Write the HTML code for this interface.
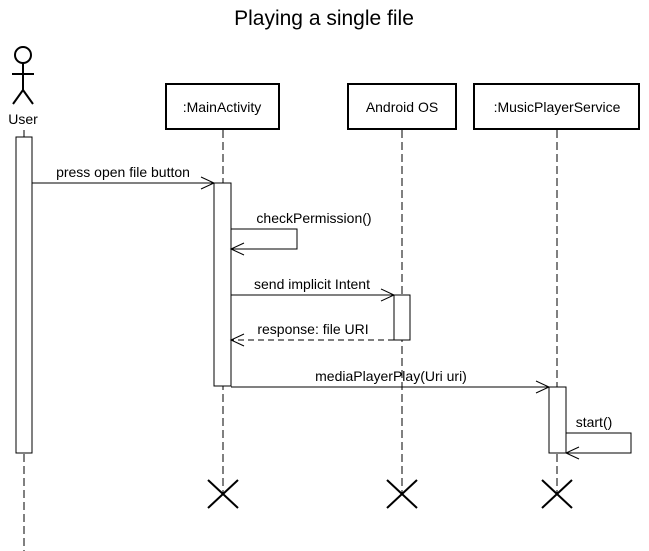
<!DOCTYPE html>
<html><head><meta charset="utf-8"><style>
html,body{margin:0;padding:0;background:#fff;}
svg{display:block;font-family:"Liberation Sans",Arial,sans-serif;}
</style></head><body>
<svg width="649" height="551" viewBox="0 0 649 551" xmlns="http://www.w3.org/2000/svg">
<text x="324" y="25" font-size="21" text-anchor="middle">Playing a single file</text>
<!-- actor -->
<g stroke="#000" stroke-width="2" fill="none">
<circle cx="23" cy="55" r="8"/>
<line x1="23" y1="63" x2="23" y2="90"/>
<line x1="12" y1="74" x2="34" y2="74"/>
<line x1="23" y1="90" x2="13" y2="104"/>
<line x1="23" y1="90" x2="33" y2="104"/>
</g>
<text x="23" y="124" font-size="14" text-anchor="middle">User</text>
<!-- lifelines -->
<g stroke="#000" stroke-width="1" stroke-dasharray="8,4">
<line x1="24" y1="130" x2="24" y2="551"/>
<line x1="223" y1="130" x2="223" y2="494"/>
<line x1="402" y1="130" x2="402" y2="494"/>
<line x1="557" y1="130" x2="557" y2="494"/>
</g>
<!-- boxes -->
<g stroke="#000" stroke-width="2" fill="#fff">
<rect x="166" y="84" width="113" height="45"/>
<rect x="348" y="84" width="108" height="45"/>
<rect x="474" y="84" width="165" height="45"/>
</g>
<g font-size="14" text-anchor="middle">
<text x="222" y="112">:MainActivity</text>
<text x="402" y="112">Android OS</text>
<text x="557" y="112">:MusicPlayerService</text>
</g>
<!-- activations -->
<g stroke="#000" stroke-width="1" fill="#fff">
<rect x="16" y="137" width="16" height="316"/>
<rect x="214" y="183" width="17" height="203"/>
<rect x="394" y="295" width="16" height="45"/>
<rect x="549" y="387" width="17" height="66"/>
</g>
<!-- messages -->
<g stroke="#000" stroke-width="1" fill="none">
<line x1="32" y1="183" x2="214" y2="183"/>
<polyline points="201,177 214,183 201,189"/>
<polyline points="231,229 297,229 297,249 231,249"/>
<polyline points="244,243 231,249 244,255"/>
<line x1="231" y1="295" x2="394" y2="295"/>
<polyline points="381,289 394,295 381,301"/>
<line x1="394" y1="340" x2="231" y2="340" stroke-dasharray="6,4"/>
<polyline points="244,334 231,340 244,346"/>
<line x1="231" y1="387" x2="549" y2="387"/>
<polyline points="536,381 549,387 536,393"/>
<polyline points="566,433 631,433 631,453 566,453"/>
<polyline points="579,447 566,453 579,459"/>
</g>
<g font-size="14" text-anchor="middle">
<text x="123" y="177">press open file button</text>
<text x="314" y="223">checkPermission()</text>
<text x="312" y="289">send implicit Intent</text>
<text x="313" y="334">response: file URI</text>
<text x="391" y="381">mediaPlayerPlay(Uri uri)</text>
<text x="594" y="427">start()</text>
</g>
<!-- destroy -->
<g stroke="#000" stroke-width="2">
<line x1="208" y1="480" x2="238" y2="508"/><line x1="238" y1="480" x2="208" y2="508"/>
<line x1="387" y1="480" x2="417" y2="508"/><line x1="417" y1="480" x2="387" y2="508"/>
<line x1="542" y1="480" x2="572" y2="508"/><line x1="572" y1="480" x2="542" y2="508"/>
</g>
</svg>
</body></html>
